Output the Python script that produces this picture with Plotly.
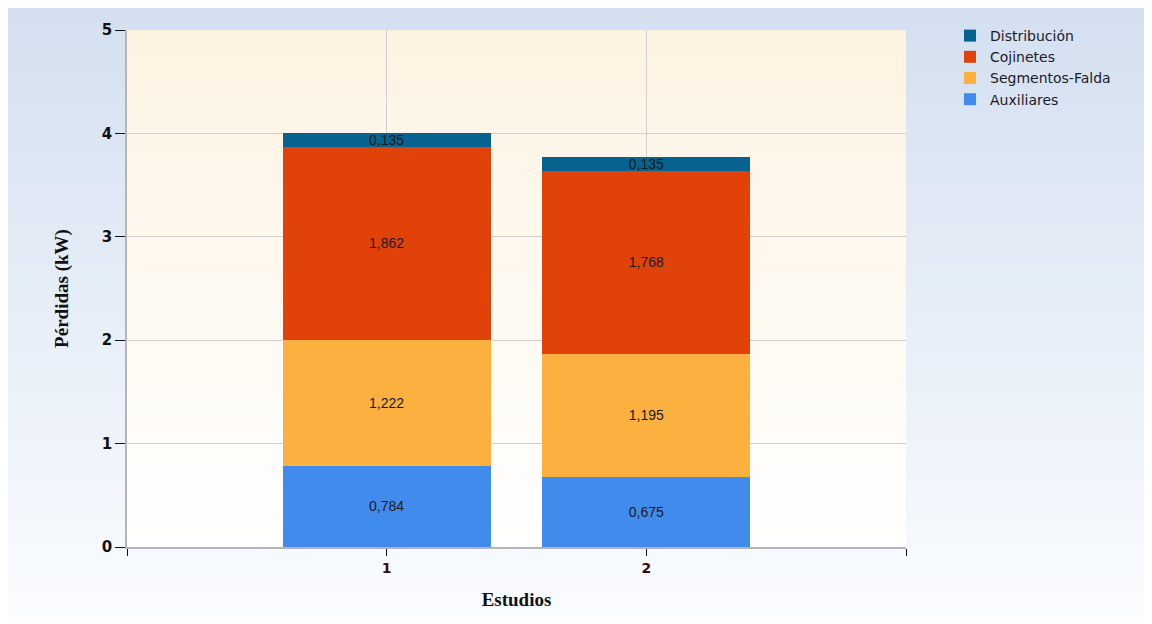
import base64, struct, zlib
import plotly.graph_objects as go

# ---------------- data ----------------
estudios = [1, 2]
auxiliares = [0.784, 0.675]
segmentos_falda = [1.222, 1.195]
cojinetes = [1.862, 1.768]
distribucion = [0.135, 0.135]

series = [
    ("Auxiliares", auxiliares, "#418bed"),
    ("Segmentos-Falda", segmentos_falda, "#fbb040"),
    ("Cojinetes", cojinetes, "#e0420a"),
    ("Distribución", distribucion, "#066390"),
]


# ---------------- gradient helpers (styling only) ----------------
def gradient_png(top, bottom, n=128):
    rows = b""
    for i in range(n):
        t = i / (n - 1)
        c = [round(top[k] + (bottom[k] - top[k]) * t) for k in range(3)]
        rows += b"\x00" + bytes(c)

    def chunk(tag, data):
        return (struct.pack(">I", len(data)) + tag + data +
                struct.pack(">I", zlib.crc32(tag + data) & 0xffffffff))

    png = b"\x89PNG\r\n\x1a\n"
    png += chunk(b"IHDR", struct.pack(">IIBBBBB", 1, n, 8, 2, 0, 0, 0))
    png += chunk(b"IDAT", zlib.compress(rows))
    png += chunk(b"IEND", b"")
    return "data:image/png;base64," + base64.b64encode(png).decode()


OFF = 8  # page body margin
W, H = 1152, 624
L, R, T, B = 127 - OFF, 906 - OFF, 30 - OFF, 547 - OFF
pw, ph = R - L, B - T

paper_img = gradient_png((212, 224, 240), (250, 252, 255))
plot_img = gradient_png((253, 243, 226), (255, 255, 255))

fig = go.Figure()
for name, vals, col in series:
    fig.add_trace(go.Bar(
        x=estudios, y=vals, name=name, marker=dict(color=col, line=dict(width=0)),
        text=[f"{v:.3f}".replace(".", ",") for v in vals],
        textposition="inside", insidetextanchor="middle", constraintext="none",
        textfont=dict(family="Liberation Sans, Arial", size=14, color="#1a1a1a"),
        width=0.8, hoverinfo="skip",
    ))

fig.update_layout(
    width=W, height=H,
    barmode="stack",
    paper_bgcolor="white",
    plot_bgcolor="rgba(0,0,0,0)",
    margin=dict(l=L, r=W - R, t=T, b=H - B, pad=0),
    images=[
        dict(source=paper_img, xref="paper", yref="paper",
             x=(0 - L) / pw, y=(B - 0) / ph, sizex=(1142) / pw, sizey=(611) / ph,
             xanchor="left", yanchor="top", sizing="stretch", layer="below"),
        dict(source=plot_img, xref="paper", yref="paper",
             x=0, y=1, sizex=1, sizey=1,
             xanchor="left", yanchor="top", sizing="stretch", layer="below"),
    ],
    legend=dict(
        x=(950 - OFF - L) / pw, y=(B - (20 - OFF)) / ph, xanchor="left", yanchor="top",
        traceorder="reversed", bgcolor="rgba(0,0,0,0)",
        font=dict(family="DejaVu Sans", size=14, color="#1a1a2a"),
        itemwidth=30, tracegroupgap=0,
    ),
    xaxis=dict(
        type="linear", range=[0, 3], tickvals=[0, 1, 2, 3], ticktext=["", "1", "2", ""],
        ticks="outside", ticklen=7, tickcolor="#111", tickwidth=1,
        showgrid=True, gridcolor="#cfcfcf", gridwidth=1,
        showline=True, linecolor="#b5b5b5", linewidth=1.5, zeroline=False,
        tickfont=dict(family="DejaVu Sans", size=14, color="#3a0a0a", weight="bold"),
        title=dict(text="<b>Estudios</b>", standoff=18,
                   font=dict(family="Liberation Serif, Times New Roman", size=19, color="#111")),
        fixedrange=True,
    ),
    yaxis=dict(
        range=[0, 5], tickvals=[0, 1, 2, 3, 4, 5],
        ticks="outside", ticklen=10, tickcolor="#111", tickwidth=1,
        showgrid=True, gridcolor="#cfcfcf", gridwidth=1,
        showline=True, linecolor="#b5b5b5", linewidth=1.5, zeroline=False,
        tickfont=dict(family="DejaVu Sans", size=15, color="#111", weight="bold"),
        title=dict(text="<b>Pérdidas (kW)</b>", standoff=28,
                   font=dict(family="Liberation Serif, Times New Roman", size=19, color="#111")),
        fixedrange=True,
    ),
    bargap=0.2,
)

fig.write_html("out.html")
